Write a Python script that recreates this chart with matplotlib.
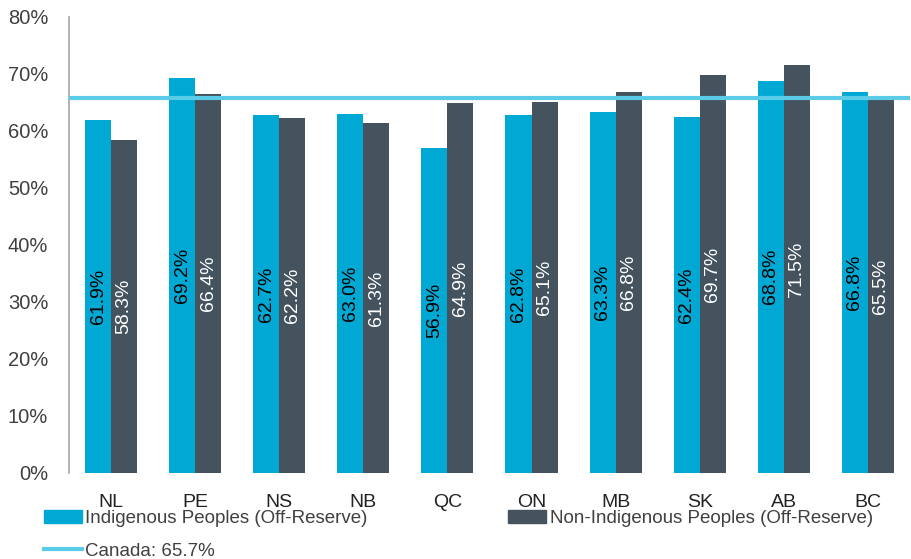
import matplotlib.pyplot as plt
from matplotlib.patches import Patch
from matplotlib.lines import Line2D
import numpy as np

provinces = ['NL', 'PE', 'NS', 'NB', 'QC', 'ON', 'MB', 'SK', 'AB', 'BC']
indigenous = [61.9, 69.2, 62.7, 63.0, 56.9, 62.8, 63.3, 62.4, 68.8, 66.8]
non_indigenous = [58.3, 66.4, 62.2, 61.3, 64.9, 65.1, 66.8, 69.7, 71.5, 65.5]
canada = 65.7

c_ind = '#00A9D3'
c_non = '#44535E'
c_can = '#5BCCE8'
txt = '#404040'

plt.rcParams['font.family'] = ['Liberation Sans', 'DejaVu Sans']

fig = plt.figure(figsize=(9.12, 5.59), dpi=100)
ax = fig.add_axes([0.0757, 0.154, 0.922, 0.816])

x = np.arange(len(provinces))
w = 0.31
ax.bar(x - w / 2, indigenous, w, color=c_ind)
ax.bar(x + w / 2, non_indigenous, w, color=c_non)

# value labels centred in each bar
for xi, v in zip(x, indigenous):
    ax.text(xi - w / 2, v / 2, f'{v:.1f}%', rotation=90, ha='center', va='center',
            fontsize=14, color='black')
for xi, v in zip(x, non_indigenous):
    ax.text(xi + w / 2, v / 2, f'{v:.1f}%', rotation=90, ha='center', va='center',
            fontsize=14, color='white')

ax.axhline(canada, color=c_can, lw=3, zorder=3)

ax.set_xlim(-0.5, 9.5)
ax.set_ylim(0, 80)
ax.set_yticks(range(0, 81, 10))
ax.set_yticklabels([f'{t}%' for t in range(0, 81, 10)])
ax.set_xticks(x)
ax.set_xticklabels(provinces)
ax.tick_params(axis='y', length=0, labelsize=14.5, labelcolor=txt, pad=15)
ax.tick_params(axis='x', length=0, labelsize=14, labelcolor='#222222', pad=15)
for s in ['top', 'right', 'bottom']:
    ax.spines[s].set_visible(False)
ax.spines['left'].set_color('#A6A6A6')
ax.spines['left'].set_linewidth(1.2)

handles = [Patch(color=c_ind), Line2D([0], [0], color=c_can, lw=3), Patch(color=c_non)]
labels = ['Indigenous Peoples (Off-Reserve)', 'Canada: 65.7%', 'Non-Indigenous Peoples (Off-Reserve)']
fig.legend(handles, labels, ncol=2, loc='lower left', bbox_to_anchor=(0.03, -0.032),
           frameon=False, fontsize=13.5, handlelength=2.0, handletextpad=0.2,
           columnspacing=7.5, labelspacing=0.85, labelcolor=txt)

fig.savefig('out.png', dpi=100)
